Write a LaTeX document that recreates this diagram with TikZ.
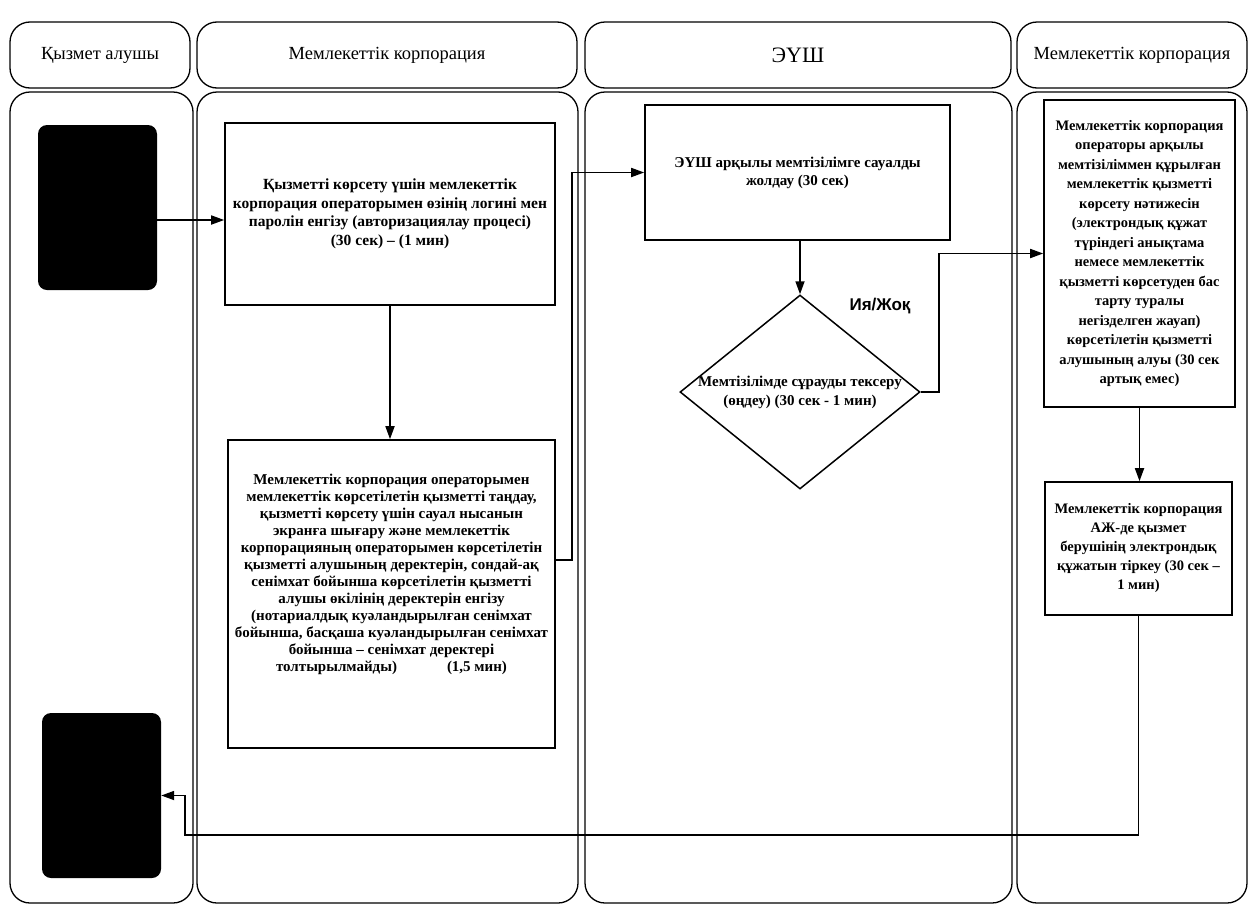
\documentclass[tikz,border=0pt]{standalone}
\usepackage{fontspec}
\setmainfont{Liberation Serif}
\newfontfamily\sansfont{Liberation Sans}
\usetikzlibrary{arrows.meta,shapes.geometric}

\begin{document}
\begin{tikzpicture}[x=1pt,y=-1pt,
  head/.style={draw,line width=1.3pt,rounded corners=20pt,minimum height=66pt,font=\fontsize{18.5}{20}\selectfont},
  lane/.style={draw,line width=1.3pt,rounded corners=20pt,minimum height=811pt},
  card/.style={fill=black,rounded corners=9pt,minimum width=119pt,minimum height=165pt},
  box/.style={draw,line width=1.6pt,align=center,inner sep=1pt,font=\bfseries},
  arr/.style={-{Triangle[length=13pt,width=9pt]},line width=1.7pt}]
\useasboundingbox (0,0) rectangle (1249,905);
\node[head,minimum width=180pt] (h1) at (100,55) {Қызмет алушы};
\node[head,minimum width=380pt] (h2) at (387,55) {Мемлекеттік корпорация};
\node[head,minimum width=426pt,font=\fontsize{22}{24}\selectfont] (h3) at (798,55) {ЭҮШ};
\node[head,minimum width=230pt] (h4) at (1132,55) {Мемлекеттік корпорация};
\node[lane,minimum width=183pt] (l1) at (101.5,497.5) {};
\node[lane,minimum width=381pt] (l2) at (387.5,497.5) {};
\node[lane,minimum width=427pt] (l3) at (798.5,497.5) {};
\node[lane,minimum width=230pt] (l4) at (1132,497.5) {};
\node[card] (b1) at (97.5,207.5) {};
\node[card] (b2) at (101.5,795.5) {};
\node[box,minimum width=330pt,minimum height=182pt,font=\bfseries\fontsize{15.5}{18.5}\selectfont] (login) at (390,214)
  {Қызметті көрсету үшін мемлекеттік\\
   корпорация операторымен өзінің логині мен\\
   паролін енгізу (авторизациялау процесі)\\
   (30 сек) -- (1 мин)};
\node[box,minimum width=327pt,minimum height=308pt,font=\bfseries\fontsize{15}{17}\selectfont] (choose) at (391.5,594)
  {Мемлекеттік корпорация операторымен\\
   мемлекеттік көрсетілетін қызметті таңдау,\\
   қызметті көрсету үшін сауал нысанын\\
   экранға шығару және мемлекеттік\\
   корпорацияның операторымен көрсетілетін\\
   қызметті алушының деректерін, сондай-ақ\\
   сенімхат бойынша көрсетілетін қызметті\\
   алушы өкілінің деректерін енгізу\\
   (нотариалдық куәландырылған сенімхат\\
   бойынша, басқаша куәландырылған сенімхат\\
   бойынша -- сенімхат деректері\\
   толтырылмайды)\hspace{50pt}(1,5 мин)\\[20pt]\strut};
\node[box,minimum width=305pt,minimum height=135pt,font=\bfseries\fontsize{15}{18}\selectfont] (send) at (797.5,172.5)
  {ЭҮШ арқылы мемтізілімге сауалды\\ жолдау (30 сек)};
\node[draw,diamond,line width=1.5pt,inner sep=0pt,minimum width=240pt,minimum height=194pt,
  label={[align=center,font=\bfseries\fontsize{15}{19}\selectfont]center:Мемтізілімде сұрауды тексеру\\(өңдеу) (30 сек - 1 мин)}] (check) at (800,392) {};
\node[font=\sansfont\bfseries\fontsize{17}{20}\selectfont] (yesno) at (880,306) {Ия/Жоқ};
\node[box,minimum width=191pt,minimum height=307pt,font=\bfseries\fontsize{14.5}{19.5}\selectfont] (result) at (1139.5,253.5)
  {Мемлекеттік корпорация\\
   операторы арқылы\\
   мемтізіліммен құрылған\\
   мемлекеттік қызметті\\
   көрсету нәтижесін\\
   (электрондық құжат\\
   түріндегі анықтама\\
   немесе мемлекеттік\\
   қызметті көрсетуден бас\\
   тарту туралы\\
   негізделген жауап)\\
   көрсетілетін қызметті\\
   алушының алуы (30 сек\\
   артық емес)};
\node[box,minimum width=187pt,minimum height=133pt,font=\bfseries\fontsize{14.5}{19}\selectfont] (record) at (1138.5,548.5)
  {Мемлекеттік корпорация\\
   АЖ-де қызмет\\
   берушінің электрондық\\
   құжатын тіркеу (30 сек --\\
   1 мин)};
\draw[arr] (b1.east |- 0,220) -- (login.west |- 0,220);
\draw[arr] (login.south) -- (login.south |- choose.north);
\draw[arr] (choose.east |- 0,560) -- (572,560) |- (send.west);
\draw[arr] (send.south -| check.north) -- (check.north);
\draw[arr] (check.east) -- (939,392) |- (result.west);
\draw[arr] (result.south) -- (result.south |- record.north);
\draw[arr] (record.south) |- (185,835) |- (b2.east);
\end{tikzpicture}
\end{document}
